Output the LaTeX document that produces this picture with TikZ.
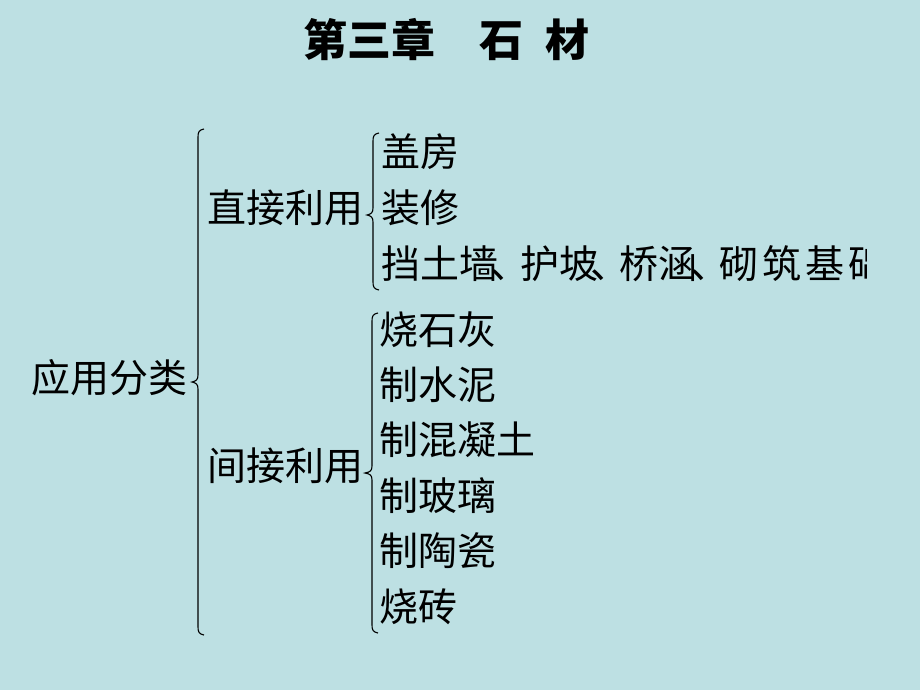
\documentclass[tikz,border=0pt]{standalone}
\usepackage{fontspec}
\newfontfamily\cjk{Noto Sans CJK SC}
\definecolor{slidebg}{RGB}{189,224,227}
\newcommand\bracepath[5]{%
  \draw[bracestyle] ({#1+6},#2) .. controls ({#1+1},{#2+1}) and (#1,{#2+3}) .. (#1,{#2+8})
    -- (#1,{#3-7}) .. controls (#1,{#3-2}) and ({#1-2},{#3-1}) .. ({#1-#5},#3)
    .. controls ({#1-2},{#3+1}) and (#1,{#3+2}) .. (#1,{#3+7})
    -- (#1,{#4-8}) .. controls (#1,{#4-3}) and ({#1+1},{#4-1}) .. ({#1+6},#4);}
\newcommand\dun{\makebox[0.56em][l]{\hspace{-0.2em}、}}
\newcommand\gap{\hspace{4pt}}
\begin{document}
\begin{tikzpicture}[x=1pt,y=-1pt,
  bracestyle/.style={line width=1.1pt,black},
  item/.style={anchor=west,inner sep=0pt,font=\cjk\fontsize{39}{44}\selectfont,text=black},
  titlestyle/.style={anchor=west,inner sep=0pt,font=\cjk\bfseries\fontsize{44}{50}\selectfont,text=black}]
\fill[slidebg] (0,0) rectangle (920,690);
\useasboundingbox (0,0) rectangle (920,690);
\node[titlestyle] (title) at (303,40) {第三章\hspace{1em}石\hspace{0.5em}材};
\node[item] (root) at (31,378) {应用分类};
\node[item] (direct) at (207,208) {直接利用};
\node[item] (indirect) at (207,466) {间接利用};
\node[item] (d1) at (381,152) {盖房};
\node[item] (d2) at (381,208) {装修};
\begin{scope}
\clip (0,0) rectangle (866,690);
\node[item] (d3) at (381,264) {挡土墙\dun 护坡\dun 桥涵\dun 砌\gap 筑\gap 基\gap 础};
\end{scope}
\node[item] (i1) at (379,330) {烧石灰};
\node[item] (i2) at (379,385) {制水泥};
\node[item] (i3) at (379,440) {制混凝土};
\node[item] (i4) at (379,496) {制玻璃};
\node[item] (i5) at (379,551) {制陶瓷};
\node[item] (i6) at (379,607) {烧砖};
\bracepath{198}{129}{382}{635}{6}
\bracepath{373}{133}{215}{290}{6}
\bracepath{372}{313}{473}{633}{7}
\end{tikzpicture}
\end{document}
